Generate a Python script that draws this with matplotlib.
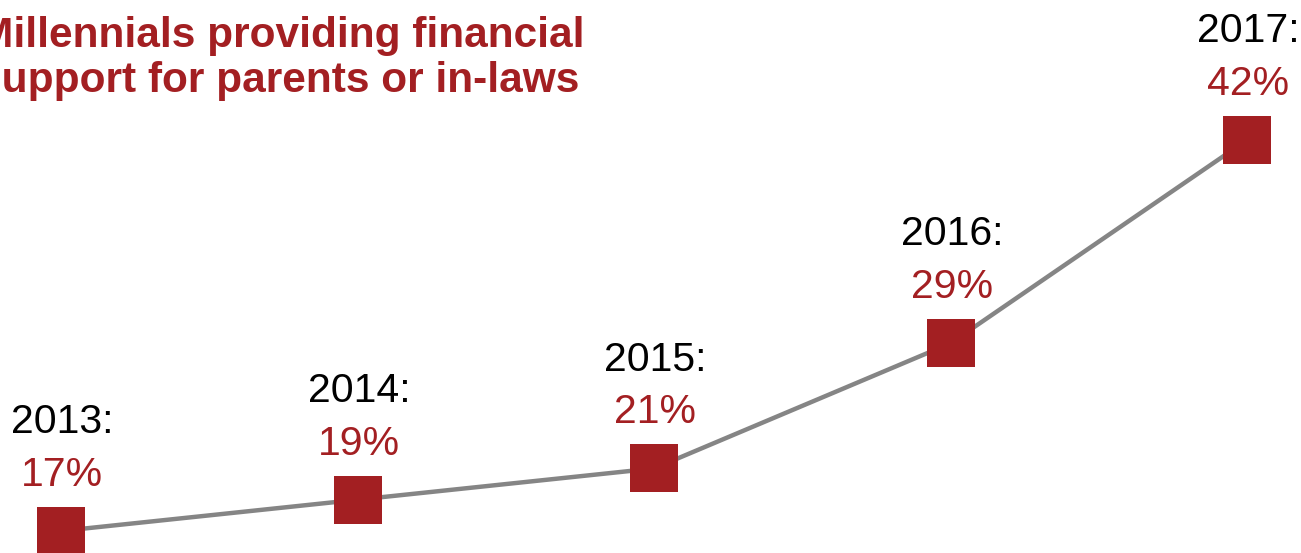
import matplotlib
matplotlib.use("Agg")
import matplotlib.pyplot as plt

years = [2013, 2014, 2015, 2016, 2017]
shares = [17, 19, 21, 29, 42]
year_labels = ["2013:", "2014:", "2015:", "2016:", "2017:"]
share_labels = ["17%", "19%", "21%", "29%", "42%"]
title = "Millennials providing financial\nsupport for parents or in-laws"

red = "#A31F22"
grey = "#858585"

plt.rcParams['font.family'] = ['Liberation Sans', 'DejaVu Sans']

fig = plt.figure(figsize=(13.01, 5.53), dpi=100)
ax = fig.add_axes([0, 0, 1, 1])
ax.set_axis_off()

ax.plot(years, shares, color=grey, lw=3.2, zorder=1)
ax.plot(years, shares, ls='none', marker='s', ms=34, mew=0,
        color=red, zorder=2)

for x, y, yl, sl in zip(years, shares, year_labels, share_labels):
    ax.annotate(yl, (x, y), xytext=(1, 70.5), textcoords='offset points',
                ha='center', va='baseline', fontsize=29.5, color='black')
    ax.annotate(sl, (x, y), xytext=(1, 32.5), textcoords='offset points',
                ha='center', va='baseline', fontsize=29.5, color=red)

# axes fill the whole picture, the chart is cropped at the edges
ax.set_xlim(2013 - 61 / 296.5, 2013 + (1301 - 61) / 296.5)
ax.set_ylim(17 - 22 / 15.64, 17 + 531 / 15.64)

fig.text(-22 / 1301, 1 - 92 / 553, title, ha='left', va='baseline',
         fontsize=30.5, fontweight='bold', color=red, linespacing=1.17)

fig.savefig("out.png", dpi=100)
